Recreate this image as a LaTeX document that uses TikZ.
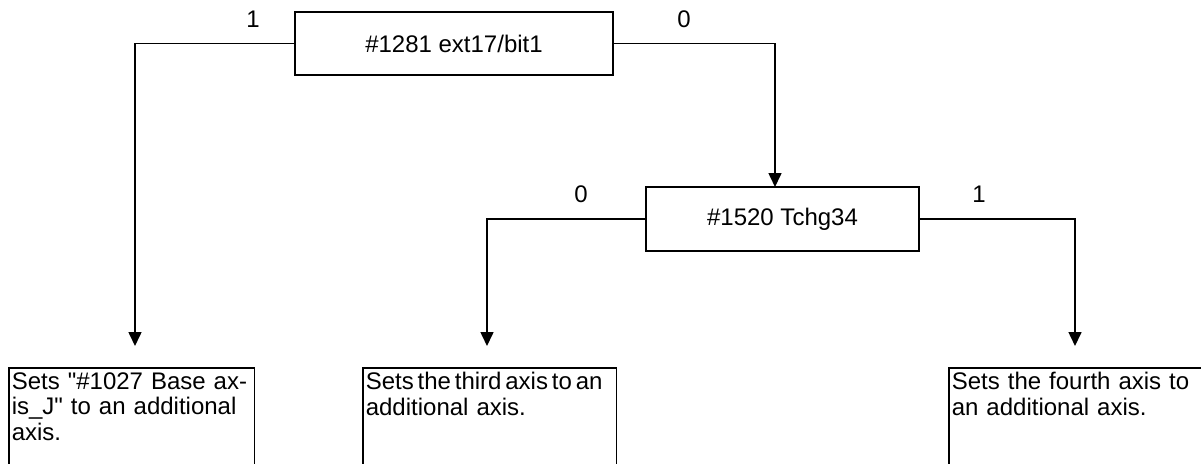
\documentclass[tikz,border=0pt]{standalone}
\usepackage{fontspec}
\newfontfamily\arialfont{Liberation Sans}
\usetikzlibrary{arrows.meta}
\begin{document}
\begin{tikzpicture}[x=1pt,y=-1pt,line width=1.6pt,
  txt/.style={font=\arialfont\fontsize{24}{25.5}\selectfont},
  decbox/.style={txt,draw,inner sep=0pt,line width=1.6pt},
  endbox/.style={txt,anchor=north west,align=left,inner xsep=2pt,inner ysep=3.5pt},
  lbl/.style={txt,inner sep=0pt},
  conn/.style={line width=1.6pt},
  arr/.style={conn,-{Triangle[width=13pt,length=14pt]}}]
\useasboundingbox (0,0) rectangle (1201,463);
\clip (0,0) rectangle (1201,463);
\fill[white] (0,0) rectangle (1201,463);
% decision nodes
\node[decbox,minimum width=318pt,minimum height=63pt] (n1) at (454,43.5) {\#1281 ext17/bit1};
\node[decbox,minimum width=273pt,minimum height=64pt] (n2) at (782.5,219) {\#1520 Tchg34};
% result boxes
\node[endbox,text width=240pt] (b1) at (9,368) {Sets "\#1027 Base ax-\\is\_J" to an additional\\axis.};
\node[endbox,text width=248pt] (b2) at (363,368) {{\spaceskip=0.16em Sets the third axis to an}\\additional axis.};
\node[endbox,text width=296pt] (b3) at (949,368) {Sets the fourth axis to\\an additional axis.};
\foreach \b in {b1,b2,b3}{
  \draw[conn] ([yshift=-140pt]\b.north west) -- (\b.north west) -- (\b.north east) -- ([yshift=-140pt]\b.north east);
}
% connector end points
\coordinate (t0) at (775,187);
\coordinate (t1) at (135,346);
\coordinate (t2) at (487,346);
\coordinate (t3) at (1075,346);
% connectors
\draw[arr] (n1.west) -| (t1);
\draw[arr] (n1.east) -| (t0);
\draw[arr] (n2.west) -| (t2);
\draw[arr] (n2.east) -| (t3);
% branch labels
\node[lbl] (l1) at (253,19) {1};
\node[lbl] (l2) at (684,19) {0};
\node[lbl] (l3) at (581,194) {0};
\node[lbl] (l4) at (979,194) {1};
\end{tikzpicture}
\end{document}
